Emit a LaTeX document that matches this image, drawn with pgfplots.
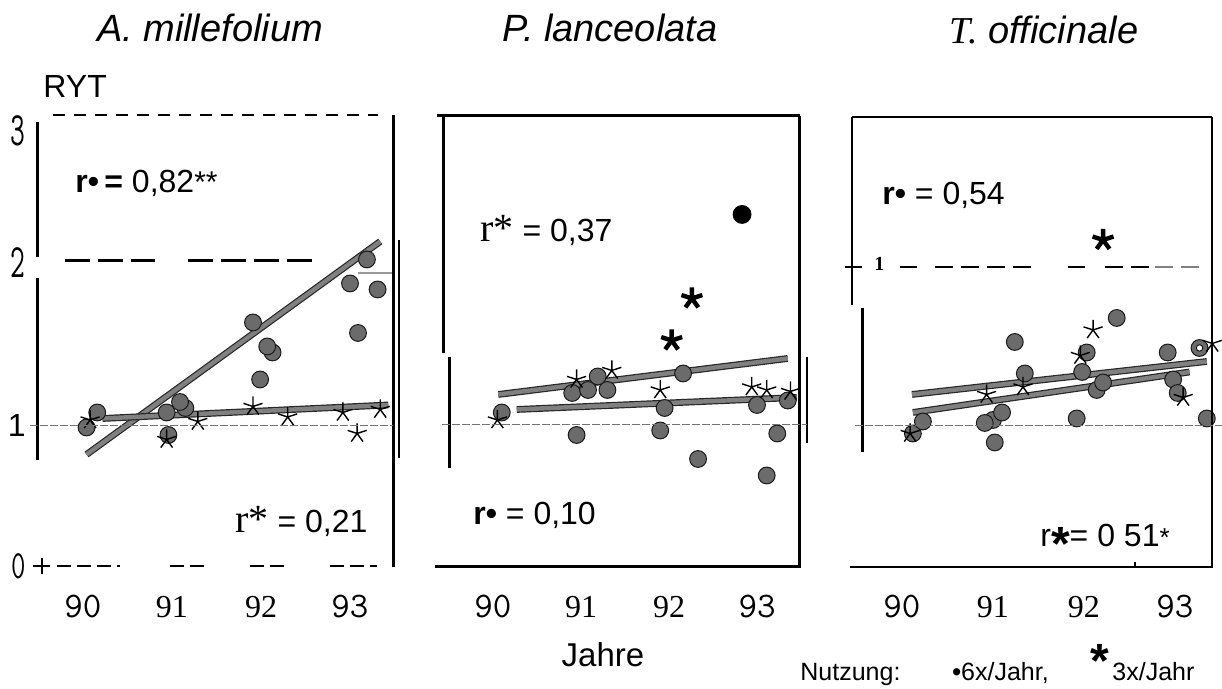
\documentclass[border=0pt]{standalone}
\usepackage{fontspec}
\setmainfont{Liberation Sans}
\newfontfamily\serif{Liberation Serif}
\usepackage{graphicx}
\usepackage{pgfplots}
\pgfplotsset{compat=1.18}
\newcommand\fs[1]{\fontsize{#1}{#1}\selectfont}

\pgfplotsset{
 panel/.style={scale only axis, anchor=south west, height=225.5pt,
   ymin=0.0667, ymax=3.073, clip=false,
   axis x line=bottom, axis y line=left, axis line style={draw=none,-},
   major tick length=0pt, tick style={draw=none},
   xtick={90,91,92,93},
   xticklabels={{\ttfamily\fs{18}90},{\serif\fs{16}91},{\serif\fs{16}92},{\ttfamily\fs{18}93}},
   xticklabel style={anchor=base, yshift=-26pt, inner sep=0pt},
   ytick=\empty},
 dots/.style={only marks, mark=*, mark size=4.2pt, black!90,
   mark options={fill=black!58, draw=black!90, line width=0.5pt}},
 stars/.style={only marks, mark=star, mark size=5pt, black,
   mark options={draw=black, line width=0.7pt}},
 bstar/.style={only marks, mark=star, mark size=5.5pt, black,
   mark options={draw=black, line width=2.2pt}},
 rego/.style={no marks, line width=3.4pt, black!85},
 regi/.style={no marks, line width=2.2pt, black!50},
}

\begin{document}
\begin{tikzpicture}
\useasboundingbox (0pt,0pt) rectangle (611pt,344.5pt);

% ---------------- Panel 1: A. millefolium
\begin{axis}[panel, at={(18pt,61.5pt)}, width=178.5pt, xmin=89.472, xmax=93.483,
   ytick={0.0667,1,2.09,2.97},
   yticklabels={{\scalebox{0.7}[1]{\ttfamily\fs{20}0}},{\fs{16}1},{\scalebox{0.6}[1]{\ttfamily\fs{24}2}},{\scalebox{0.6}[1]{\ttfamily\fs{24}3}}},
   yticklabel style={anchor=east, inner sep=2pt, xshift=-3pt}]
\addplot[rego] coordinates {(90.04,0.81) (93.34,2.23)};
\addplot[regi] coordinates {(90.04,0.81) (93.34,2.23)};
\addplot[rego] coordinates {(90.22,1.05) (93.43,1.14)};
\addplot[regi] coordinates {(90.22,1.05) (93.43,1.14)};
\addplot[dots] coordinates {
 (90.04,0.99) (90.16,1.09) (90.94,1.09) (90.96,0.94) (91.15,1.12) (91.09,1.16)
 (91.91,1.69) (92.13,1.49) (92.07,1.53) (91.99,1.31)
 (93.19,2.11) (93.00,1.95) (93.31,1.91) (93.09,1.62)};
\addplot[stars] coordinates {
 (90.08,1.04) (90.94,0.91) (91.29,1.03) (91.91,1.13) (92.30,1.06)
 (92.92,1.09) (93.08,0.95) (93.34,1.11)};
\end{axis}

% ---------------- Panel 2: P. lanceolata
\begin{axis}[panel, at={(221.5pt,61.5pt)}, width=178pt, xmin=89.432, xmax=93.477]
\addplot[rego] coordinates {(90.06,1.21) (93.35,1.45)};
\addplot[regi] coordinates {(90.06,1.21) (93.35,1.45)};
\addplot[rego] coordinates {(90.27,1.11) (93.45,1.19)};
\addplot[regi] coordinates {(90.27,1.11) (93.45,1.19)};
\addplot[dots] coordinates {
 (90.10,1.09) (91.19,1.33) (90.90,1.22) (91.08,1.24) (91.30,1.24) (90.95,0.94)
 (92.16,1.35) (91.95,1.12) (91.90,0.97) (92.33,0.78) (93.11,0.67) (93.23,0.95)
 (93.00,1.14) (93.35,1.17)};
\addplot[stars] coordinates {
 (90.05,1.04) (90.95,1.31) (91.35,1.37) (91.90,1.24) (92.94,1.26) (93.11,1.24) (93.38,1.23)};
\addplot[only marks, mark=*, mark size=4.5pt, mark options={fill=black, draw=black}] coordinates {(92.83,2.41)};
\addplot[bstar] coordinates {(92.26,1.85) (92.03,1.57)};
\end{axis}

% ---------------- Panel 3: T. officinale
\begin{axis}[panel, at={(426pt,61.5pt)}, width=180pt, xmin=89.451, xmax=93.407]
\addplot[rego] coordinates {(90.11,1.21) (93.35,1.43)};
\addplot[regi] coordinates {(90.11,1.21) (93.35,1.43)};
\addplot[rego] coordinates {(90.12,1.09) (93.16,1.36)};
\addplot[regi] coordinates {(90.12,1.09) (93.16,1.36)};
\addplot[dots] coordinates {
 (92.36,1.72) (91.24,1.56) (92.03,1.49) (91.35,1.35) (92.92,1.49) (93.27,1.52)
 (91.98,1.36) (92.98,1.31) (92.14,1.24) (92.21,1.29) (91.00,1.04) (91.10,1.09)
 (90.91,1.02) (91.02,0.89) (91.92,1.05) (93.35,1.05) (93.03,1.22) (90.12,0.95) (90.23,1.03)};
\addplot[only marks, mark=*, mark size=1.6pt, mark options={fill=white, draw=black}] coordinates {(93.27,1.52)};
\addplot[stars] coordinates {
 (92.10,1.64) (91.96,1.47) (93.41,1.55) (90.93,1.21) (91.33,1.26) (93.09,1.19) (90.09,0.95)};
\addplot[bstar] coordinates {(92.21,2.24)};
\end{axis}

\begin{scope}[x=0.5pt,y=0.5pt]
% ---------------- frames, panel 1
\draw[line width=1.3pt, dash pattern=on 6pt off 4.5pt] (53,574)--(378,574);
\draw[line width=1.5pt] (37,567)--(37,432);
\draw[line width=1.5pt] (37,411)--(37,229);
\draw[line width=1.5pt] (393,574)--(393,122);
\draw[line width=1.2pt] (399,449)--(399,231);
\draw[black!40, line width=0.6pt] (358,416)--(392,416);
\draw[line width=1.5pt, dash pattern=on 12.5pt off 4pt] (65,428)--(155,428);
\draw[line width=1.5pt, dash pattern=on 12.5pt off 4pt] (188,428)--(312,428);
\draw[line width=1.1pt] (33,123)--(50,123);
\draw[line width=1.1pt] (42,115)--(42,131);
\draw[line width=1.2pt, dash pattern=on 7pt off 3pt] (57,123)--(120,123);
\draw[line width=1.2pt, dash pattern=on 7pt off 3pt] (170,123)--(210,123);
\draw[line width=1.2pt, dash pattern=on 7pt off 3pt] (250,123)--(290,123);
\draw[line width=1.2pt, dash pattern=on 7pt off 3pt] (330,123)--(377,123);
\draw[black!55, line width=0.5pt, dash pattern=on 4pt off 1pt] (30,263)--(393,263);

% ---------------- frames, panel 2
\draw[line width=1.5pt] (437,573)--(800,573);
\draw[line width=1.5pt] (443,573)--(443,336);
\draw[line width=1.5pt] (449,332)--(449,221);
\draw[line width=1.5pt] (799,573)--(799,121);
\draw[line width=1.5pt] (435,122)--(800,122);
\draw[line width=1pt] (807,332)--(807,246);
\draw[black!55, line width=0.5pt, dash pattern=on 4pt off 1pt] (442,264)--(807,264);

% ---------------- frames, panel 3
\draw[line width=1.3pt] (852,572)--(1212,572);
\draw[line width=1.3pt] (852,572)--(852,384);
\draw[line width=1.5pt] (862,381)--(862,237);
\draw[line width=1.3pt] (1212,572)--(1212,121);
\draw[line width=1.3pt] (850,122)--(1212,122);
\draw[line width=1pt] (1135,122)--(1135,127);
\draw[black!55, line width=0.5pt, dash pattern=on 4pt off 1pt] (855,263)--(1222,263);
\draw[line width=1.2pt] (845,422)--(862,422);
\draw[line width=1.2pt] (900,422)--(917,422);
\draw[line width=1.2pt, dash pattern=on 9pt off 4pt] (935,422)--(1035,422);
\draw[line width=1.2pt] (1068,422)--(1085,422);
\draw[line width=1.2pt, dash pattern=on 9pt off 4pt] (1105,422)--(1150,422);
\draw[black!50, line width=1.1pt, dash pattern=on 9pt off 4pt] (1155,422)--(1200,422);
\node[anchor=base west, inner sep=0pt] at (874,418) {\serif\bfseries\fs{10}1};

% ---------------- texts
\node[anchor=base] at (210,647) {\fs{19}\itshape A. millefolium};
\node[anchor=base] at (610,647) {\fs{19}\itshape P. lanceolata};
\node[anchor=base] at (1044,645) {\fs{19}{\serif\itshape T.} \itshape officinale};
\node[anchor=base west, inner sep=0pt] at (43,591) {\fs{16}RYT};

\node[anchor=base west, inner sep=0pt] at (75,496) {\fs{16}\textbf{r•\,=} 0,82{\fs{15}**}};
\node[anchor=base west, inner sep=0pt] at (235,156) {{\serif\fs{20}r*}\fs{16} = 0,21};
\node[anchor=base west, inner sep=0pt] at (480,447) {{\serif\fs{20}r*}\fs{16} = 0,37};
\node[anchor=base west, inner sep=0pt] at (473,164) {\fs{16}\textbf{r•} = 0,10};
\node[anchor=base west, inner sep=0pt] at (882,484) {\fs{16}\textbf{r•} = 0,54};
\node[anchor=base west, inner sep=0pt] at (1040,142) {\fs{16}r\raisebox{-7pt}{\fs{24}\textbf{*}}= 0 51{\fs{13}*}};

\node[anchor=base] at (603,22) {\fs{16.5}Jahre};
\node[anchor=base west, inner sep=0pt] at (800,8) {\fs{12.5}Nutzung:};
\node[anchor=base west, inner sep=0pt] at (952,8) {\fs{12.5}\textbf{•}6x/Jahr,};
\node[anchor=base, inner sep=0pt] at (1100,11) {\fs{24}\textbf{*}};
\node[anchor=base west, inner sep=0pt] at (1112,8) {\fs{12.5}3x/Jahr};
\end{scope}
\end{tikzpicture}
\end{document}
